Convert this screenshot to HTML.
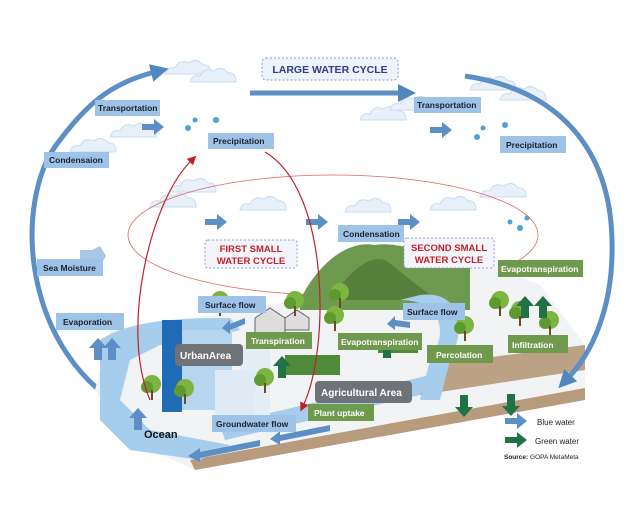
<!DOCTYPE html>
<html><head><meta charset="utf-8"><style>
html,body{margin:0;padding:0;background:#fff}
svg{display:block}
text{font-family:"Liberation Sans",sans-serif;font-weight:bold}
.b{fill:#9fc3e6}
.bt{font-size:8.5px;fill:#1a2030}
.g{fill:#6f9a4e}
.gt{font-size:8.5px;fill:#fff}
</style></head><body>
<svg width="640" height="508" viewBox="0 0 640 508">
<defs>
<marker id="ah" markerUnits="userSpaceOnUse" markerWidth="18" markerHeight="18" refX="4" refY="9" orient="auto"><path d="M0,0L18,9L0,18z" fill="#4f87be"/></marker>
<marker id="rh" markerUnits="userSpaceOnUse" markerWidth="9" markerHeight="9" refX="3" refY="4.5" orient="auto"><path d="M0,0L9,4.5L0,9z" fill="#c4202a"/></marker>
<g id="cl"><path d="M0,12 q2,-8 10,-6 q4,-9 14,-5 q8,-6 14,2 q8,-1 8,9z" fill="#e8f0f9" stroke="#cadcee" stroke-width="1"/></g>
<g id="ua"><path d="M-4,0 h8 v-12 h5 l-9,-10 l-9,10 h5z" fill="#217244"/></g>
<g id="ba"><path d="M-4,0 h8 v-12 h5 l-9,-10 l-9,10 h5z" fill="#5b8fc5"/></g>
<g id="tr"><circle r="9" fill="#7db542"/><circle cx="-5" cy="3" r="6" fill="#5e9a30"/><rect x="-1" y="6" width="2" height="10" fill="#6b4a2b"/></g>
</defs>
<!-- clouds -->
<use href="#cl" x="165" y="62"/><use href="#cl" x="190" y="70"/><use href="#cl" x="70" y="140"/><use href="#cl" x="110" y="125"/>
<use href="#cl" x="470" y="78"/><use href="#cl" x="500" y="88"/><use href="#cl" x="360" y="108"/><use href="#cl" x="390" y="98"/>
<use href="#cl" x="150" y="195"/><use href="#cl" x="170" y="180"/><use href="#cl" x="240" y="198"/><use href="#cl" x="345" y="200"/><use href="#cl" x="430" y="198"/><use href="#cl" x="480" y="185"/>
<!-- big arcs -->
<path d="M150,420 C20,370 10,200 60,140 C90,100 115,82 155,72" fill="none" stroke="#5b8fc5" stroke-width="5" marker-end="url(#ah)"/>
<line x1="250" y1="93" x2="402" y2="93" stroke="#5b8fc5" stroke-width="5" marker-end="url(#ah)"/>
<!-- small arrows -->
<g fill="#5b8fc5">
<path d="M142,124h12v-5l10,8l-10,8v-5h-12z"/>
<path d="M430,127h12v-5l10,8l-10,8v-5h-12z"/>
<path d="M205,219h12v-5l10,8l-10,8v-5h-12z"/>
<path d="M306,219h12v-5l10,8l-10,8v-5h-12z"/>
<path d="M398,219h12v-5l10,8l-10,8v-5h-12z"/>
</g>
<path d="M80,250h12l8,-4l6,10l-6,10l-8,-4h-12z" fill="#a9c6e3"/>
<g fill="#4aa3dc"><circle cx="188" cy="128" r="3"/><circle cx="195" cy="120" r="2.5"/><circle cx="216" cy="120" r="3"/><circle cx="477" cy="137" r="3"/><circle cx="483" cy="128" r="2.5"/><circle cx="505" cy="125" r="3"/><circle cx="520" cy="228" r="3"/><circle cx="510" cy="222" r="2.5"/><circle cx="527" cy="218" r="2.5"/></g>
<!-- red ellipse -->
<ellipse cx="333" cy="235" rx="205" ry="60" fill="none" stroke="#d66" stroke-width="0.8"/>
<!-- ground -->
<path d="M195,470 L585,395 L585,345 L540,285 L470,255 L420,300 L300,300 L180,320 L110,330 L95,390 L130,440z" fill="#f1f3f5"/>
<path d="M195,470 L585,400 L585,388 L190,460z" fill="#b89a7c"/>
<path d="M420,395 L585,370 L585,345 L430,365z" fill="#bca284"/>
<path d="M300,300 C320,260 350,240 375,245 C400,240 440,260 470,255 L470,310 L300,310z" fill="#6e9a4f"/>
<path d="M330,300 C350,270 370,255 385,260 C400,270 420,290 440,300z" fill="#577f3b"/>
<path d="M100,340 C130,320 180,318 230,318 L240,330 L200,340 L160,345 L130,360 L120,400 L150,430 L230,445 L200,460 L130,450 L100,420z" fill="#a7cdec"/>
<path d="M225,440 L420,395 L430,375 L220,425z" fill="#a7cdec"/>
<path d="M400,300 C440,300 450,330 430,360 L420,400 L440,400 L450,360 C470,320 455,290 420,295z" fill="#a7cdec"/>
<rect x="162" y="320" width="20" height="92" fill="#1f6bb5"/>
<rect x="182" y="330" width="50" height="80" fill="#b6d6ef"/>
<rect x="240" y="345" width="30" height="70" fill="#e6eef5"/>
<rect x="215" y="370" width="40" height="45" fill="#dfeaf4"/>
<path d="M255,318 l15,-10 l15,10 v15 h-30z M285,318 l12,-8 l12,8 v12 h-24z" fill="#ddd" stroke="#666" stroke-width="1"/>
<rect x="285" y="355" width="55" height="20" fill="#4e8a3a"/>
<rect x="378" y="335" width="40" height="18" fill="#4e8a3a"/>
<use href="#tr" x="152" y="384"/><use href="#tr" x="185" y="388"/><use href="#tr" x="265" y="377"/><use href="#tr" x="295" y="300"/><use href="#tr" x="335" y="315"/><use href="#tr" x="220" y="300"/><use href="#tr" x="520" y="310"/><use href="#tr" x="465" y="325"/><use href="#tr" x="500" y="300"/><use href="#tr" x="550" y="320"/><use href="#tr" x="340" y="292"/>
<!-- right arc -->
<path d="M465,76 C560,90 610,150 612,240 C614,310 590,355 568,378" fill="none" stroke="#5b8fc5" stroke-width="5" marker-end="url(#ah)"/>
<!-- blue/green arrows -->
<use href="#ba" x="98" y="360"/><use href="#ba" x="112" y="360"/><use href="#ba" x="138" y="430"/>
<use href="#ua" x="282" y="378"/><use href="#ua" x="387" y="358"/>
<use href="#ua" x="525" y="318"/><use href="#ua" x="543" y="318"/>
<use href="#ua" x="464" y="373" transform="rotate(180 464 384)"/><use href="#ua" x="511" y="372" transform="rotate(180 511 383)"/>
<path d="M245,318 l-15,6 v-4 l-8,8 l8,6 v-4 l15,-6z" fill="#5b8fc5"/>
<path d="M410,322 l-15,-2 v-4 l-8,8 l8,6 v-4 l15,2z" fill="#5b8fc5"/>
<path d="M260,440 l-60,12 v-4 l-12,8 l12,6 v-4 l60,-12z M330,425 l-50,10 v-4 l-10,8 l10,6 v-4 l50,-10z" fill="#5b8fc5"/>
<!-- red arrows -->
<path d="M150,400 C120,330 150,200 192,160" fill="none" stroke="#c4202a" stroke-width="1.2" marker-end="url(#rh)"/>
<path d="M265,152 C330,190 330,350 303,406" fill="none" stroke="#c4202a" stroke-width="1.2" marker-end="url(#rh)"/>
<!-- labels -->
<rect x="262" y="58" width="136" height="22" rx="4" fill="#eef3fa" stroke="#7f9ccc" stroke-dasharray="2,2"/>
<text x="330" y="73" text-anchor="middle" font-size="10.5" fill="#2c3f85">LARGE WATER CYCLE</text>
<rect x="205" y="240" width="92" height="28" rx="3" fill="#f3f5fb" stroke="#8b9fd0" stroke-dasharray="2,2"/>
<text x="251" y="252" text-anchor="middle" font-size="9.5" fill="#c4202a">FIRST SMALL</text>
<text x="251" y="264" text-anchor="middle" font-size="9.5" fill="#c4202a">WATER CYCLE</text>
<rect x="404" y="238" width="90" height="30" rx="3" fill="#f3f5fb" stroke="#8b9fd0" stroke-dasharray="2,2"/>
<text x="449" y="251" text-anchor="middle" font-size="9.5" fill="#c4202a">SECOND SMALL</text>
<text x="449" y="263" text-anchor="middle" font-size="9.5" fill="#c4202a">WATER CYCLE</text>
<g>
<rect class="b" x="95" y="100" width="65" height="16"/><text class="bt" x="98" y="111">Transportation</text>
<rect class="b" x="44" y="152" width="65" height="16"/><text class="bt" x="49" y="163">Condensaion</text>
<rect class="b" x="208" y="133" width="66" height="16"/><text class="bt" x="213" y="144">Precipitation</text>
<rect class="b" x="414" y="97" width="67" height="16"/><text class="bt" x="417" y="108">Transportation</text>
<rect class="b" x="500" y="136" width="66" height="17"/><text class="bt" x="506" y="148">Precipitation</text>
<rect class="b" x="37" y="259" width="66" height="17"/><text class="bt" x="43" y="271">Sea Moisture</text>
<rect class="b" x="338" y="225" width="66" height="17"/><text class="bt" x="343" y="237">Condensation</text>
<rect class="b" x="56" y="313" width="68" height="17"/><text class="bt" x="63" y="325">Evaporation</text>
<rect class="b" x="198" y="296" width="68" height="17"/><text class="bt" x="205" y="308">Surface flow</text>
<rect class="b" x="403" y="303" width="62" height="17"/><text class="bt" x="407" y="315">Surface flow</text>
<rect class="b" x="212" y="415" width="84" height="17"/><text class="bt" x="216" y="427">Groundwater flow</text>
</g>
<g>
<rect class="g" x="498" y="260" width="85" height="17"/><text class="gt" x="501" y="272">Evapotranspiration</text>
<rect class="g" x="246" y="332" width="66" height="17"/><text class="gt" x="251" y="344">Transpiration</text>
<rect class="g" x="338" y="333" width="84" height="17"/><text class="gt" x="341" y="345">Evapotranspiration</text>
<rect class="g" x="427" y="345" width="66" height="18"/><text class="gt" x="436" y="358">Percolation</text>
<rect class="g" x="508" y="335" width="60" height="18"/><text class="gt" x="512" y="348">Infiltration</text>
<rect class="g" x="308" y="404" width="66" height="17"/><text class="gt" x="314" y="416">Plant uptake</text>
</g>
<rect x="175" y="344" width="68" height="22" rx="4" fill="#6f7377"/><text x="180" y="359" font-size="10" fill="#fff">UrbanArea</text>
<rect x="315" y="381" width="97" height="22" rx="4" fill="#6f7377"/><text x="321" y="396" font-size="10" fill="#fff">Agricultural Area</text>
<text x="144" y="438" font-size="11" fill="#111">Ocean</text>
<path d="M505,418h12v-5l10,8l-10,8v-5h-12z" fill="#5b8fc5"/>
<path d="M505,437h12v-5l10,8l-10,8v-5h-12z" fill="#217244"/>
<text x="537" y="425" font-size="8" fill="#222" style="font-weight:normal">Blue water</text>
<text x="535" y="444" font-size="8" fill="#222" style="font-weight:normal">Green water</text>
<text x="504" y="459" font-size="6.5" fill="#222">Source: <tspan style="font-weight:normal">GOPA MetaMeta</tspan></text>
</svg>
</body></html>
